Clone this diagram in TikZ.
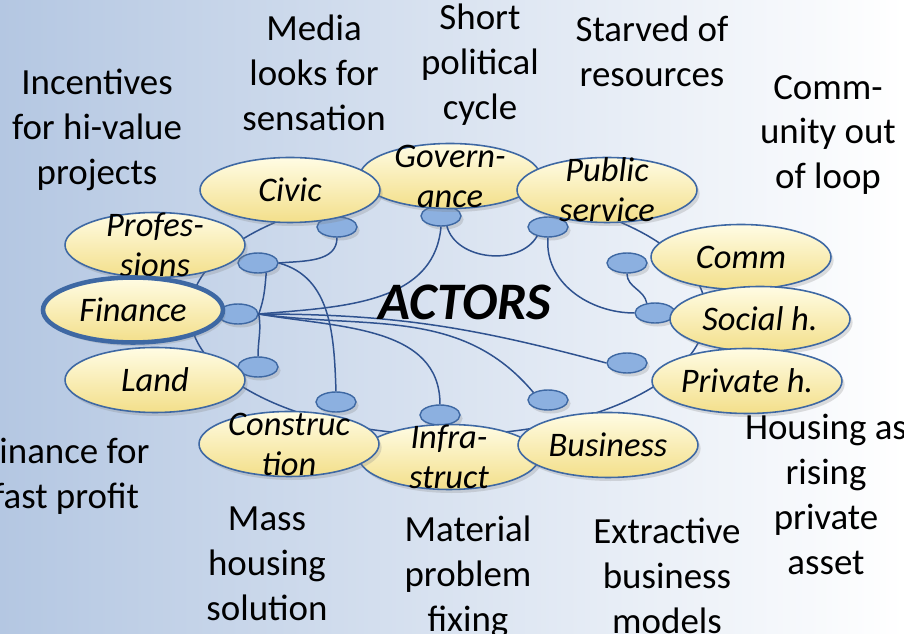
\documentclass[tikz,border=0pt]{standalone}
\usepackage{fontspec}
\setmainfont{Carlito}
\usetikzlibrary{shapes.geometric, positioning, backgrounds, shadows}

\definecolor{lineblue}{RGB}{47,82,143}
\definecolor{rimblue}{RGB}{62,104,163}
\definecolor{portblue}{RGB}{140,176,224}
\definecolor{creamtop}{RGB}{255,252,228}
\definecolor{creambot}{RGB}{243,223,138}
\definecolor{bgleft}{RGB}{180,199,226}
\definecolor{bgmid}{RGB}{222,230,242}

\begin{document}
\begin{tikzpicture}[
    x=0.02cm, y=-0.02cm,
    link/.style={draw=lineblue, line width=0.85pt},
    actor/.style={draw=rimblue, ellipse, line width=0.9pt, inner sep=0pt, minimum width=3.6cm, minimum height=1.3cm,
        top color=creamtop, bottom color=creambot,
        drop shadow={opacity=0.25, shadow xshift=1.5pt, shadow yshift=-2pt}},
    actortext/.style={align=center, font=\fontsize{19.6}{22.8}\selectfont\itshape},
    port/.style={draw=rimblue, ellipse, line width=0.8pt, inner sep=0pt, fill=portblue, minimum width=0.8cm, minimum height=0.4cm,
        drop shadow={opacity=0.25, shadow xshift=1.5pt, shadow yshift=-2pt}},
    note/.style={align=center, font=\fontsize{21}{25.6}\selectfont}
]
\useasboundingbox (0,0) rectangle (904,634);
\clip (0,0) rectangle (904,634);

% ports on the inner ring
\node[port] (pCivic)  at (337,227) {};
\node[port] (pProf)   at (258,263) {};
\node[port] (pFin)    at (238,314) {};
\node[port] (pLand)   at (258,367) {};
\node[port] (pConstr) at (336,402) {};
\node[port] (pInfra)  at (440,415) {};
\node[port] (pBus)    at (548,400) {};
\node[port] (pPriv)   at (627,363) {};
\node[port] (pSoc)    at (655,313) {};
\node[port] (pComm)   at (627,263) {};
\node[port] (pPub)    at (548,227) {};
\node[port] (pGov)    at (441,216) {};

% links
\draw[link] (pFin.east) to[out=70, in=-95] (pProf.-50);
\draw[link] (pFin.east) to[out=-80, in=90] (pLand.north);
\draw[link] (pFin.east) to[out=5, in=-95] (pGov.south);
\draw[link] (pFin.east) to[out=0, in=165] (pPriv.west);
\draw[link] (pFin.east) to[out=-8, in=130] (pBus.north west);
\draw[link] (pFin.east) to[out=-10, in=90] (pInfra.north);
\draw[link] (pProf.east) to[out=-15, in=92] (pConstr.north);
\draw[link] (pCivic.south) to[out=-90, in=5] (pProf.east);
\draw[link] (pGov.-60) to[out=-75, in=-120] (pPub.-140);
\draw[link] (pPub.south) to[out=-95, in=180] (pSoc.west);
\draw[link] (pComm.south) to[out=-90, in=100] (pSoc.130);

% actors
\node[actor] (Gov) at (450,176) {};
\node[actortext] (Gov-t) at (Gov) {Govern-\\ance};
\node[actor] (Infra) at (449,457) {};
\node[actortext] (Infra-t) at (Infra) {Infra-\\struct};
\node[actor] (Comm) at (741,257) {};
\node[actortext] (Comm-t) at (Comm) {Comm};
\node[actor] (Profes) at (155,245) {};
\node[actortext] (Profes-t) at (Profes) {Profes-\\sions};
\node[actor] (Land) at (155,380) {};
\node[actortext] (Land-t) at (Land) {Land};
\node[actor] (Civic) at (290,190) {};
\node[actortext] (Civic-t) at (Civic) {Civic};
\node[actor] (Public) at (607,190) {};
\node[actortext] (Public-t) at (Public) {Public\\service};
\node[actor] (Constr) at (289,444) {};
\node[actortext] (Constr-t) at (Constr) {Construc\\tion};
\node[actor] (Business) at (608,445) {};
\node[actortext] (Business-t) at (Business) {Business};
\node[actor] (Social) at (760,319) {};
\node[actortext] (Social-t) at (Social) {Social h.};
\node[actor, minimum width=3.8cm] (Private) at (747,381) {};
\node[actortext] (Private-t) at (Private) {Private h.};
\node[actor, line width=2.6pt] (Finance) at (133,310) {};
\node[actortext] (Finance-t) at (Finance) {Finance};

\node[font=\fontsize{30}{36}\selectfont\bfseries\itshape] (title) at (465,302) {ACTORS};

% outer notes
\node[note] (nIncent)    at (97,130)  {Incentives\\for hi-value\\projects};
\node[note] (nMedia)     at (314,73)  {Media\\looks for\\sensation};
\node[note] (nShort)     at (480,65)  {Short\\political\\cycle};
\node[note] (nStarved)   at (652,51)  {Starved of\\resources};
\node[note] (nCommunity) at (828,135) {Comm-\\unity out\\of loop};
\node[note] (nFinance)   at (66,476)  {Finance for\\fast profit};
\node[note] (nMass)      at (267,564) {Mass\\housing\\solution};
\node[note] (nMaterial)  at (468,577) {Material\\problem\\fixing};
\node[note] (nExtract)   at (667,576) {Extractive\\business\\models};
\node[note] (nHousing)   at (826,494) {Housing as\\rising\\private\\asset};

\begin{scope}[on background layer]
    \fill[left color=bgleft, middle color=bgmid, right color=white] (0,0) rectangle (904,634);
    \draw[link] (448,313) ellipse [x radius=258, y radius=122];
\end{scope}
\end{tikzpicture}
\end{document}
